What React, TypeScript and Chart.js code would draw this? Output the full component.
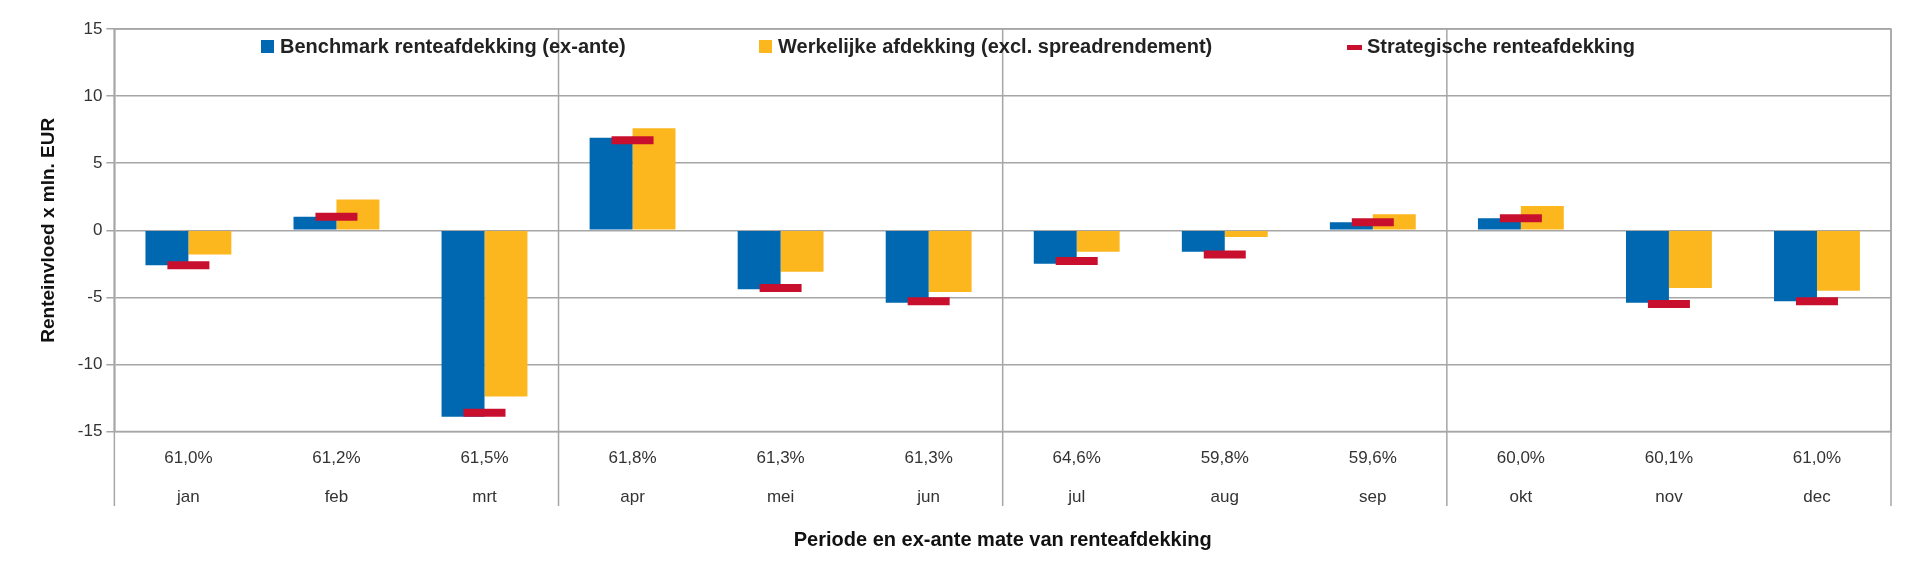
import React, { useEffect, useRef } from "react";
import { Chart, registerables } from "chart.js";
Chart.register(...registerables);

const months = ["jan", "feb", "mrt", "apr", "mei", "jun", "jul", "aug", "sep", "okt", "nov", "dec"];
const hedgeRatios = ["61,0%", "61,2%", "61,5%", "61,8%", "61,3%", "61,3%", "64,6%", "59,8%", "59,6%", "60,0%", "60,1%", "61,0%"];
const benchmark = [-2.6, 1.0, -13.9, 6.9, -4.4, -5.4, -2.5, -1.6, 0.6, 0.9, -5.4, -5.3];
const actual = [-1.8, 2.3, -12.4, 7.6, -3.1, -4.6, -1.6, -0.5, 1.2, 1.8, -4.3, -4.5];
const strategic = [-2.6, 1.0, -13.6, 6.7, -4.3, -5.3, -2.3, -1.8, 0.6, 0.9, -5.5, -5.3];
const yTicks = [15, 10, 5, 0, -5, -10, -15];

const BLUE = "#0067b1";
const ORANGE = "#fdb71e";
const RED = "#c8102e";
const GRID = "#a6a6a6";
const FONT = "'Liberation Sans Narrow', 'Liberation Sans', Arial, sans-serif";

const extras = {
  id: "extras",
  afterDraw(chart: any) {
    const ctx = chart.ctx;
    const a = chart.chartArea;
    const x = chart.scales.x;
    ctx.save();
    ctx.strokeStyle = GRID;
    ctx.lineWidth = 1.5;
    const bottom = 506;
    const bounds = [0, 3, 6, 9, 12];
    bounds.forEach((i) => {
      let px;
      if (i === 0) px = a.left;
      else if (i === 12) px = a.right;
      else px = (x.getPixelForValue(i - 1) + x.getPixelForValue(i)) / 2;
      ctx.beginPath();
      ctx.moveTo(px, a.top);
      ctx.lineTo(px, bottom);
      ctx.stroke();
    });
    ctx.beginPath();
    ctx.rect(a.left, a.top, a.right - a.left, a.bottom - a.top);
    ctx.stroke();
    // legend
    ctx.font = "bold 20px " + FONT;
    ctx.textBaseline = "middle";
    const ly = 47;
    ctx.fillStyle = BLUE;
    ctx.fillRect(261, ly - 7, 13, 13);
    ctx.fillStyle = "#222";
    ctx.fillText("Benchmark renteafdekking (ex-ante)", 280, ly);
    ctx.fillStyle = ORANGE;
    ctx.fillRect(759, ly - 7, 13, 13);
    ctx.fillStyle = "#222";
    ctx.fillText("Werkelijke afdekking (excl. spreadrendement)", 778, ly);
    ctx.fillStyle = RED;
    ctx.fillRect(1347, ly - 2, 15, 5);
    ctx.fillStyle = "#222";
    ctx.fillText("Strategische renteafdekking", 1367, ly);
    ctx.restore();
  },
};

export default function App() {
  const ref = useRef<HTMLCanvasElement>(null);
  useEffect(() => {
    const chart = new Chart(ref.current!, {
      type: "bar",
      data: {
        labels: months.map((m, i) => [hedgeRatios[i], m]),
        datasets: [
          {
            type: "line",
            label: "Strategische renteafdekking",
            data: strategic,
            showLine: false,
            pointStyle: "line",
            pointRadius: 21,
            pointBorderWidth: 8,
            borderColor: RED,
            backgroundColor: RED,
            order: 0,
          } as any,
          { label: "Benchmark renteafdekking (ex-ante)", data: benchmark, backgroundColor: BLUE, order: 1 },
          { label: "Werkelijke afdekking (excl. spreadrendement)", data: actual, backgroundColor: ORANGE, order: 1 },
        ],
      },
      options: {
        animation: false,
        responsive: false,
        layout: { padding: { top: 18, right: 18, left: 33, bottom: 14 } },
        datasets: { bar: { categoryPercentage: 0.58, barPercentage: 1 } },
        plugins: { legend: { display: false }, tooltip: { enabled: false } },
        scales: {
          x: {
            grid: { display: false },
            border: { display: false },
            ticks: {
              color: "#333",
              font: { family: FONT, size: 17, lineHeight: 2.25 },
              maxRotation: 0,
              padding: 0,
            },
            title: {
              display: true,
              text: "Periode en ex-ante mate van renteafdekking",
              color: "#111",
              font: { family: FONT, size: 20, weight: "bold" },
              padding: { top: 12, bottom: 0 },
            },
          },
          y: {
            min: -15,
            max: 15,
            afterBuildTicks: (s: any) => {
              s.ticks = yTicks.map((v) => ({ value: v }));
            },
            grid: { color: GRID, lineWidth: 1.5, tickLength: 8 },
            border: { color: GRID, width: 1.5 },
            ticks: { color: "#333", font: { family: FONT, size: 17 }, padding: 4 },
            title: {
              display: true,
              text: "Renteinvloed x mln. EUR",
              color: "#111",
              font: { family: "'Liberation Sans', Arial, sans-serif", size: 19, weight: "bold" },
              padding: { bottom: 14 },
            },
          },
        },
      },
      plugins: [extras],
    });
    return () => chart.destroy();
  }, []);
  return (
    <div style={{ position: "fixed", left: 0, top: 0, width: 1920, height: 566, background: "#fff" }}>
      <canvas ref={ref} width={1920} height={566} />
    </div>
  );
}
